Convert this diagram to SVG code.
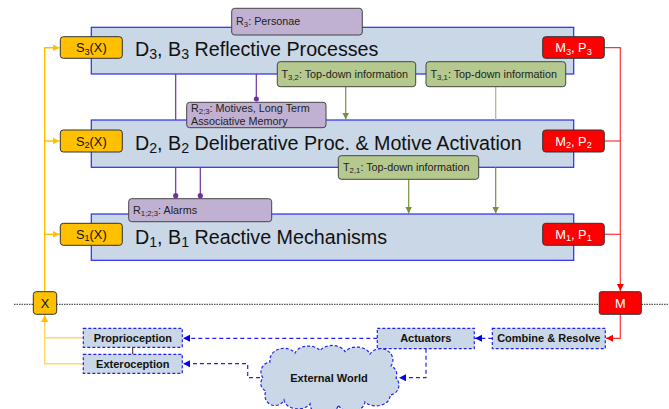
<svg xmlns="http://www.w3.org/2000/svg" width="669" height="409" viewBox="0 0 669 409">
<defs>
<style>
.layer{fill:#C9D7E7;stroke:#2B2BF0;stroke-width:1.2}
.s{fill:#FFC000;stroke:#333;stroke-width:1}
.m{fill:#FF0000;stroke:#333;stroke-width:1}
.r{fill:#C0B1D3;stroke:#444;stroke-width:1}
.t{fill:#B5C98E;stroke:#444;stroke-width:1}
.io{fill:#C9D7E7;stroke:#2222EE;stroke-width:1.2;stroke-dasharray:3,2}
.title{font-family:"Liberation Sans",Arial,sans-serif;font-size:19.7px;fill:#111}
.lbl{font-family:"Liberation Sans",Arial,sans-serif;font-size:10.8px;fill:#222}
.sl{font-family:"Liberation Sans",Arial,sans-serif;font-size:12.8px;fill:#111;text-anchor:middle}
.ml{font-family:"Liberation Sans",Arial,sans-serif;font-size:12.8px;fill:#fff;text-anchor:middle}
.bl{font-family:"Liberation Sans",Arial,sans-serif;font-size:11px;font-weight:bold;fill:#111;text-anchor:middle}
.sub{font-size:72%}
.ye{fill:none;stroke:#FFC000;stroke-width:1.5}
.yl{fill:none;stroke:#FFD966;stroke-width:1.5}
.rd{fill:none;stroke:#FF3333;stroke-width:1.2}
.bd{fill:none;stroke:#2222EE;stroke-width:1.2;stroke-dasharray:4,3}
.pu{fill:none;stroke:#7030A0;stroke-width:1.2}
.ol{fill:none;stroke:#76923C;stroke-width:1.2}
.ol2{fill:none;stroke:#A9B98F;stroke-width:1.2}
</style>
<marker id="ay" markerWidth="8" markerHeight="8" refX="7" refY="4" orient="auto" markerUnits="userSpaceOnUse"><path d="M0,0.5 L7,4 L0,7.5 Z" fill="#FFC000"/></marker>
<marker id="ar" markerWidth="8" markerHeight="8" refX="7" refY="4" orient="auto" markerUnits="userSpaceOnUse"><path d="M0,0.5 L7,4 L0,7.5 Z" fill="#FF0000"/></marker>
<marker id="ab" markerWidth="8" markerHeight="8" refX="7" refY="4" orient="auto" markerUnits="userSpaceOnUse"><path d="M0,0.5 L7,4 L0,7.5 Z" fill="#0000EE"/></marker>
<marker id="ao" markerWidth="8" markerHeight="8" refX="7" refY="4" orient="auto" markerUnits="userSpaceOnUse"><path d="M0,0.5 L7,4 L0,7.5 Z" fill="#76923C"/></marker>
<marker id="dp" markerWidth="6" markerHeight="6" refX="3" refY="3" orient="auto" markerUnits="userSpaceOnUse"><circle cx="3" cy="3" r="2.6" fill="#7030A0"/></marker>
</defs>
<rect width="669" height="409" fill="#fff"/>

<line x1="14" y1="304.3" x2="669" y2="304.3" stroke="#555" stroke-width="1.2" stroke-dasharray="1.5,1"/>

<g id="layer3"><rect class="layer" x="91.3" y="27.3" width="482.4" height="46.7"/>
<text class="title" x="135" y="56">D<tspan class="sub" dy="3">3</tspan><tspan dy="-3">, B</tspan><tspan class="sub" dy="3">3</tspan><tspan dy="-3"> Reflective Processes</tspan></text></g>
<g id="layer2"><rect class="layer" x="91.3" y="120" width="482.4" height="47.3"/>
<text class="title" x="135" y="150">D<tspan class="sub" dy="3">2</tspan><tspan dy="-3">, B</tspan><tspan class="sub" dy="3">2</tspan><tspan dy="-3"> Deliberative Proc. &amp; Motive Activation</tspan></text></g>
<g id="layer1"><rect class="layer" x="91.3" y="214" width="482.4" height="46.3"/>
<text class="title" x="135" y="243.5">D<tspan class="sub" dy="3">1</tspan><tspan dy="-3">, B</tspan><tspan class="sub" dy="3">1</tspan><tspan dy="-3"> Reactive Mechanisms</tspan></text></g>

<g id="connectors">
<path class="ye" d="M44.7,291.7 V47.7 H59.5" marker-end="url(#ay)"/>
<path class="ye" d="M44.7,141 H59.5" marker-end="url(#ay)"/>
<path class="ye" d="M44.7,234.3 H59.5" marker-end="url(#ay)"/>
<path class="yl" d="M83.3,337.7 H44.7 V315" marker-end="url(#ay)"/>
<path class="yl" d="M83.3,363.7 H44.7 V337"/>
<path class="rd" d="M604.3,47.7 H620.3 V291" marker-end="url(#ar)"/>
<path class="rd" d="M604.3,141 H620.3"/>
<path class="rd" d="M604.3,234.3 H620.3"/>
<path class="rd" d="M620.3,314.3 V338.3 H606" marker-end="url(#ar)"/>
<path class="bd" d="M492.3,338.3 H475" marker-end="url(#ab)"/>
<path class="bd" d="M377.3,338.3 H183" marker-end="url(#ab)"/>
<path class="bd" d="M426,348.7 V377.7 H399" marker-end="url(#ab)"/>
<path class="bd" d="M260,377.7 H247.7 V363.7 H183" marker-end="url(#ab)"/>
<path d="M132.7,347.3 V354.3" stroke="#222" stroke-width="1" fill="none"/>
<path class="pu" d="M175.7,74 V120"/>
<path class="pu" d="M256.3,74 V99" marker-end="url(#dp)"/>
<path class="pu" d="M175.7,167.3 V195.7" marker-end="url(#dp)"/>
<path class="pu" d="M200.3,167.3 V195.7" marker-end="url(#dp)"/>
<path class="ol" d="M345.7,86.7 V119.5" marker-end="url(#ao)"/>
<path class="ol2" d="M495.7,86.7 V120"/>
<path class="ol" d="M408.7,179.3 V213.5" marker-end="url(#ao)"/>
<path class="ol" d="M495.7,167.3 V213.5" marker-end="url(#ao)"/>
</g>

<g id="s3"><rect class="s" x="60.3" y="36.7" width="62" height="21.6" rx="3"/><text class="sl" x="91.3" y="52">S<tspan class="sub" dy="2.5">3</tspan><tspan dy="-2.5">(X)</tspan></text></g>
<g id="s2"><rect class="s" x="60.3" y="130" width="62" height="22" rx="3"/><text class="sl" x="91.3" y="145.5">S<tspan class="sub" dy="2.5">2</tspan><tspan dy="-2.5">(X)</tspan></text></g>
<g id="s1"><rect class="s" x="60.3" y="223.3" width="62" height="22" rx="3"/><text class="sl" x="91.3" y="238.8">S<tspan class="sub" dy="2.5">1</tspan><tspan dy="-2.5">(X)</tspan></text></g>

<g id="m3"><rect class="m" x="542.7" y="36.7" width="61.6" height="21.6" rx="3"/><text class="ml" x="573.5" y="52">M<tspan class="sub" dy="2.5">3</tspan><tspan dy="-2.5">, P</tspan><tspan class="sub" dy="2.5">3</tspan></text></g>
<g id="m2"><rect class="m" x="542.7" y="130" width="61.6" height="22" rx="3"/><text class="ml" x="573.5" y="145.5">M<tspan class="sub" dy="2.5">2</tspan><tspan dy="-2.5">, P</tspan><tspan class="sub" dy="2.5">2</tspan></text></g>
<g id="m1"><rect class="m" x="542.7" y="223.3" width="61.6" height="22" rx="3"/><text class="ml" x="573.5" y="238.8">M<tspan class="sub" dy="2.5">1</tspan><tspan dy="-2.5">, P</tspan><tspan class="sub" dy="2.5">1</tspan></text></g>

<g id="r3"><rect class="r" x="231.7" y="8.3" width="130.6" height="26.7" rx="3"/><text class="lbl" x="236" y="24.5">R<tspan class="sub" dy="2">3</tspan><tspan dy="-2">: Personae</tspan></text></g>
<g id="t32"><rect class="t" x="277.3" y="61.7" width="138.4" height="25" rx="3"/><text class="lbl" x="281.5" y="78">T<tspan class="sub" dy="2">3,2</tspan><tspan dy="-2">: Top-down information</tspan></text></g>
<g id="t31"><rect class="t" x="426" y="61.7" width="139.7" height="25" rx="3"/><text class="lbl" x="430.5" y="78">T<tspan class="sub" dy="2">3,1</tspan><tspan dy="-2">: Top-down information</tspan></text></g>
<g id="r23"><rect class="r" x="186.7" y="102.3" width="139.3" height="25.4" rx="3"/><text class="lbl" x="191" y="112">R<tspan class="sub" dy="1.5">2;3</tspan><tspan dy="-1.5">: Motives, Long Term</tspan></text><text class="lbl" x="191" y="124.5">Associative Memory</text></g>
<g id="t21"><rect class="t" x="338.3" y="155.7" width="140.4" height="23.6" rx="3"/><text class="lbl" x="343" y="171">T<tspan class="sub" dy="2">2,1</tspan><tspan dy="-2">: Top-down information</tspan></text></g>
<g id="r123"><rect class="r" x="128.7" y="198.7" width="143" height="23" rx="3"/><text class="lbl" x="133" y="213.5">R<tspan class="sub" dy="2">1;2;3</tspan><tspan dy="-2">: Alarms</tspan></text></g>

<g id="x"><rect class="s" x="33.3" y="291.7" width="23.4" height="22.6" rx="3"/><text class="sl" x="45" y="307.5">X</text></g>
<g id="m"><rect class="m" x="599.3" y="291.7" width="42" height="22.6" rx="2"/><text class="ml" x="620.3" y="307.5">M</text></g>

<g id="combine"><rect class="io" x="492.3" y="328.3" width="113" height="20.4"/><text class="bl" x="548.8" y="342.3">Combine &amp; Resolve</text></g>
<g id="actuators"><rect class="io" x="377.3" y="328.3" width="97" height="20.4"/><text class="bl" x="425.8" y="342.3">Actuators</text></g>
<g id="proprioception"><rect class="io" x="83.3" y="328.3" width="99" height="19"/><text class="bl" x="132.8" y="341.8">Proprioception</text></g>
<g id="exteroception"><rect class="io" x="83.3" y="354.3" width="99" height="19"/><text class="bl" x="132.8" y="367.8">Exteroception</text></g>
<g id="world"><path class="io" d="M263,378 A10 10 0 0 1 270,362 A14 12 0 0 1 295,353 A14 10 0 0 1 320,350.5 A14 10 0 0 1 345,351.5 A14 10 0 0 1 370,354 A12 11 0 0 1 391,366 A9 9 0 0 1 396,378 A10 10 0 0 1 390,395 A14 10 0 0 1 365,402 A14 10 0 0 1 338,405 A14 10 0 0 1 310,404 A14 10 0 0 1 284,400 A10 10 0 0 1 266,391 A8 8 0 0 1 263,378 Z"/><text class="bl" x="329" y="381.8">External World</text></g>
</svg>
